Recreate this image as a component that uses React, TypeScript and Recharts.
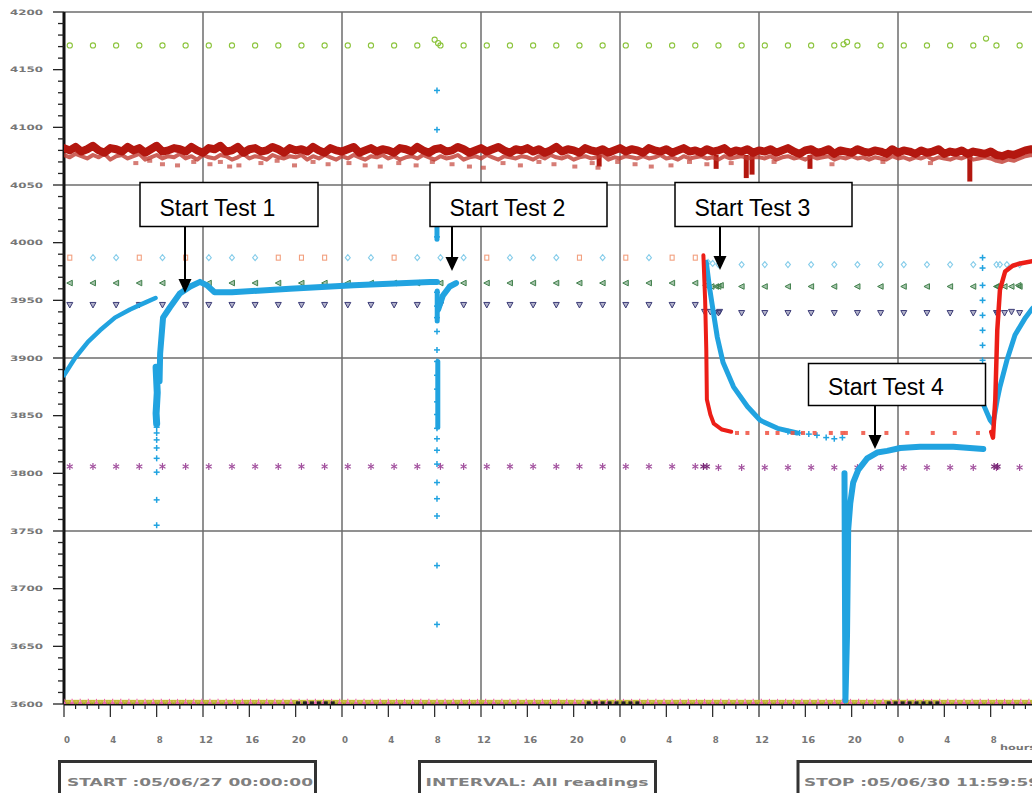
import React from 'react';
import { ComposedChart, Scatter, XAxis, YAxis, ReferenceLine } from 'recharts';

// ---------- axes ----------
const xTickHours = Array.from({ length: 85 }, (_, i) => i); // hourly ticks 0..84
const yMajorTicks = [3600, 3650, 3700, 3750, 3800, 3850, 3900, 3950, 4000, 4050, 4100, 4150, 4200];
const yAllTicks = yMajorTicks.flatMap((t, i) => (i < yMajorTicks.length - 1 ? [t, t + 10, t + 20, t + 30, t + 40] : [t]));
const gridHours = [12, 24, 36, 48, 60, 72];
const gridLevels = [4200, 4050, 3900, 3750];

// ---------- logged marker rows ----------
const markerHours = [0.5, 2.5, 4.5, 6.5, 8.5, 10.5, 12.5, 14.5, 16.5, 18.5, 20.5, 22.5, 24.5, 26.5, 28.5, 30.5, 32.5, 34.5, 36.5, 38.5, 40.5, 42.5, 44.5, 46.5, 48.5, 50.5, 52.5, 54.5, 56.5, 58.5, 60.5, 62.5, 64.5, 66.5, 68.5, 70.5, 72.5, 74.5, 76.5, 78.5, 80.5, 82.5];
const levelSwitchHour = 55;
const greenCircleLevel = [4171, 4171];
const diamondLevel = [3987, 3981];
const triLeftLevel = [3965, 3962];
const triDownLevel = [3946, 3939];
const starLevel = [3806, 3805];
const bottomLevel = 3601;
const salmonHours = [0.5, 6.5, 10.5, 18.5, 20.5, 22.5, 28.5, 36.5, 44.5, 48.5, 52.5, 54.5];

const greenCircleExtra = [[32.0, 4176], [32.3, 4173], [67.3, 4172], [67.6, 4174], [79.6, 4177]];
const diamondExtra = [[55.6, 3983], [56.0, 3982], [80.8, 3981], [81.4, 3981]];
const triLeftExtra = [[55.4, 3963], [55.9, 3962], [56.3, 3962], [56.7, 3963], [80.6, 3962], [81.2, 3962], [81.8, 3962], [82.4, 3963]];
const triDownExtra = [[55.3, 3940], [55.8, 3940], [56.2, 3939], [56.6, 3940], [80.6, 3939], [81.2, 3939], [81.8, 3940]];
const starExtra = [[55.2, 3806], [55.5, 3806], [80.3, 3806], [80.6, 3806]];

// ---------- dark red reading (noisy band) ----------
const redBandValues = [
  4082, 4080, 4083, 4079, 4081, 4084, 4080, 4078, 4082, 4081, 4079, 4083, 4080, 4082, 4078, 4081, 4084, 4079, 4080, 4082,
  4081, 4079, 4083, 4080, 4078, 4082, 4081, 4084, 4079, 4080, 4083, 4078, 4081, 4082, 4079, 4080, 4083, 4081, 4078, 4082,
  4080, 4081, 4079, 4083, 4080, 4078, 4082, 4080, 4079, 4081, 4083, 4078, 4080, 4082, 4079, 4081, 4080, 4078, 4082, 4081,
  4079, 4083, 4080, 4078, 4081, 4082, 4079, 4080, 4083, 4081, 4078, 4080, 4082, 4079, 4081, 4083, 4080, 4078, 4081, 4080,
  4082, 4079, 4081, 4078, 4080, 4083, 4079, 4081, 4080, 4078, 4082, 4080, 4079, 4081, 4078, 4080, 4082, 4079, 4081, 4080,
  4078, 4082, 4080, 4079, 4081, 4078, 4080, 4082, 4079, 4080, 4078, 4081, 4079, 4080, 4082, 4078, 4080, 4079, 4081, 4078,
  4080, 4079, 4081, 4078, 4080, 4082, 4079, 4077, 4080, 4081, 4078, 4079, 4081, 4077, 4080, 4079, 4078, 4081, 4079, 4078,
  4080, 4079, 4077, 4081, 4078, 4080, 4079, 4077, 4080, 4078, 4079, 4081, 4077, 4079, 4078, 4080, 4077, 4079, 4078, 4077,
  4079, 4076, 4075, 4077, 4076, 4078, 4080, 4081, 4080,
];
const redBandLower = [
  4076, 4074, 4077, 4075, 4073, 4076, 4074, 4077, 4072, 4075, 4076, 4073, 4075, 4077, 4072, 4074, 4076, 4073, 4075, 4074,
  4077, 4073, 4075, 4072, 4076, 4074, 4073, 4076, 4075, 4072, 4074, 4077, 4073, 4075, 4074, 4072, 4076, 4074, 4073, 4075,
  4074, 4076, 4072, 4075, 4073, 4076, 4074, 4072, 4075, 4073, 4076, 4074, 4072, 4075, 4074, 4076, 4073, 4075, 4072, 4074,
  4075, 4073, 4076, 4074, 4072, 4075, 4073, 4074, 4076, 4072, 4074, 4075, 4073, 4076, 4074, 4072, 4075, 4074, 4073, 4075,
  4074, 4072, 4075, 4073, 4076, 4074, 4073, 4075, 4072, 4074, 4075, 4073, 4074, 4076, 4072, 4074, 4073, 4075, 4074, 4073,
  4075, 4073, 4074, 4076, 4073, 4074, 4072, 4075, 4073, 4074, 4075, 4073, 4074, 4072, 4075, 4073, 4074, 4075, 4073, 4074,
  4074, 4073, 4075, 4072, 4074, 4075, 4073, 4074, 4072, 4075, 4073, 4074, 4075, 4072, 4074, 4073, 4075, 4073, 4074, 4072,
  4074, 4073, 4072, 4075, 4073, 4074, 4072, 4074, 4073, 4075, 4072, 4074, 4073, 4072, 4074, 4073, 4075, 4072, 4073, 4074,
  4073, 4071, 4070, 4072, 4071, 4073, 4075, 4076, 4075,
];
const redFringe = [[6.2, 4069], [7.4, 4071], [8.5, 4068], [9.8, 4067], [11.2, 4070], [12.6, 4068], [13.5, 4070], [14.3, 4066], [15.1, 4067], [17.0, 4069], [18.4, 4071], [19.9, 4067], [21.5, 4070], [22.8, 4068], [24.6, 4069], [26.0, 4067], [27.3, 4066], [28.9, 4069], [30.4, 4067], [31.8, 4070], [33.5, 4068], [35.0, 4066], [36.2, 4065], [37.9, 4069], [39.4, 4067], [41.0, 4070], [42.3, 4068], [44.1, 4066], [45.6, 4069], [46.1, 4065], [47.8, 4070], [49.3, 4068], [50.7, 4066], [52.4, 4067], [54.0, 4070], [55.5, 4068], [57.6, 4069], [61.3, 4070], [66.3, 4068], [70.7, 4070], [74.8, 4069]];
const redSpikeHours = [46.2, 56.3, 58.9, 59.4, 64.4, 78.2];
const redSpikeLows = [4066, 4064, 4056, 4059, 4064, 4053];
const redSpikeTop = 4076;

// ---------- blue reading ----------
const blueT1Rise = [[0, 3885], [0.95, 3900], [2.07, 3914], [3.11, 3924], [4.4, 3935], [5.7, 3942], [7.0, 3948], [7.9, 3952]];
const blueT1Drop = [[7.95, 3892], [8.05, 3870], [7.95, 3852], [8.0, 3843]];
const blueT1DropCross = [3840, 3835, 3829, 3822, 3813, 3801, 3777, 3755];
const blueT1DropHour = 8.0;
const blueT1Plateau = [[8.25, 3880], [8.3, 3904], [8.55, 3935], [9.15, 3944], [10.0, 3956], [10.9, 3962], [11.74, 3966], [12.35, 3963], [13.0, 3957], [14.5, 3957], [19.5, 3960], [25, 3963], [31.6, 3966], [32.2, 3966]];
const blueT2Hour = 32.2;
const blueT2Cross = [4132, 4098, 4024, 4015, 4005, 3957, 3945, 3935, 3923, 3907, 3897, 3885, 3873, 3862, 3851, 3839, 3830, 3820, 3808, 3792, 3778, 3763, 3720, 3669];
const blueT2Dense = [[[32.2, 4027], [32.2, 4003]], [[32.22, 3958], [32.22, 3932]], [[32.27, 3897], [32.27, 3840]]];
const blueT2Rise = [[32.3, 3942], [32.7, 3954], [33.3, 3962], [33.85, 3965]];
const blueT3Fall = [[55.45, 3983], [55.7, 3963], [55.96, 3946], [56.4, 3918], [56.9, 3896], [57.8, 3875], [59.0, 3858], [60.1, 3846], [61.6, 3839], [63.3, 3835]];
const blueT3Tail = [[62.5, 3836], [63.5, 3835], [64.3, 3834], [65.0, 3833], [65.8, 3831], [66.5, 3830], [67.2, 3831]];
const blueT4 = [[67.38, 3800], [67.42, 3700], [67.46, 3603], [67.6, 3660], [67.7, 3751], [67.88, 3774], [68.13, 3792], [68.57, 3803], [69.34, 3813], [70.2, 3818], [71.07, 3819.5], [72.19, 3822], [73.9, 3823], [76.77, 3823], [79.36, 3821]];
const blueT5Hour = 79.3;
const blueT5Cross = [3987, 3978, 3963, 3950, 3937, 3924, 3911, 3898, 3885, 3872];
const blueT5 = [[79.36, 3860], [79.96, 3846], [80.2, 3843], [80.57, 3864], [80.8, 3875], [81.4, 3898], [82.1, 3920], [83.0, 3935], [83.6, 3943], [84, 3946]];

// ---------- bright red reading ----------
const redT3Fall = [[55.2, 3989], [55.35, 3950], [55.45, 3907], [55.5, 3864], [55.8, 3851], [56.1, 3843], [56.8, 3838], [57.6, 3836]];
const redT3DotHours = [58.1, 59.0, 60.7, 61.6, 62.9, 63.8, 64.8, 66.2, 67.2, 67.5, 69.0, 71.0, 72.8, 75.0, 76.9, 78.9];
const redT3DotLevel = 3835;
const redT5Rise = [[80.05, 3836], [80.2, 3831], [80.4, 3864], [80.57, 3924], [80.8, 3959], [81.25, 3975], [81.9, 3980], [82.55, 3982], [83.6, 3984], [84, 3984]];

// ---------- bottom dense row ----------
const bottomPinkHours = Array.from({ length: 121 }, (_, i) => i * 0.7);
const bottomYellowHours = Array.from({ length: 120 }, (_, i) => i * 0.7 + 0.35);
const bottomBlackHours = [20.2, 20.8, 21.4, 22.0, 22.6, 23.2, 45.3, 45.9, 46.5, 47.1, 47.7, 48.3, 48.9, 49.5, 71.2, 71.8, 72.4, 73.0, 73.6, 74.2, 74.8, 75.4];

// ---------- colours ----------
const BLUE = '#21a3e0';
const DARK_RED = '#b3170f';
const BRIGHT_RED = '#ec1e17';

const toPts = (arr: number[][]) => arr.map(([h, v]) => ({ h, v }));
const row = (hours: number[], level: number[]) => hours.map((h) => ({ h, v: h < levelSwitchHour ? level[0] : level[1] }));
const flat = (hours: number[], v: number) => hours.map((h) => ({ h, v }));
const spread = (vals: number[]) => vals.map((v, i) => ({ h: (i * 84) / (vals.length - 1), v }));

// ---------- shapes ----------
const noShape = () => <g />;
const circleShape = (c: string) => (p: any) => <circle cx={p.cx} cy={p.cy} r={2.6} fill="none" stroke={c} strokeWidth={1.1} />;
const diamondShape = (c: string) => (p: any) => (
  <path d={`M${p.cx},${p.cy - 3}L${p.cx + 2.5},${p.cy}L${p.cx},${p.cy + 3}L${p.cx - 2.5},${p.cy}Z`} fill="none" stroke={c} strokeWidth={1.1} />
);
const squareShape = (c: string) => (p: any) => <rect x={p.cx - 2} y={p.cy - 2.5} width={4} height={5} fill="none" stroke={c} strokeWidth={1.1} />;
const triLeftShape = (c: string) => (p: any) => (
  <path d={`M${p.cx - 3},${p.cy}L${p.cx + 2.5},${p.cy - 2.8}L${p.cx + 2.5},${p.cy + 2.8}Z`} fill={c} fillOpacity={0.45} stroke={c} strokeWidth={1} />
);
const triDownShape = (c: string, fo = 0.4) => (p: any) => (
  <path d={`M${p.cx - 3},${p.cy - 2.5}L${p.cx + 3},${p.cy - 2.5}L${p.cx},${p.cy + 3}Z`} fill={c} fillOpacity={fo} stroke={c} strokeWidth={1} />
);
const starShape = (c: string, s = 3.5) => (p: any) => (
  <g stroke={c} strokeWidth={1.2}>
    <line x1={p.cx} y1={p.cy - s} x2={p.cx} y2={p.cy + s} />
    <line x1={p.cx - s * 0.86} y1={p.cy - s / 2} x2={p.cx + s * 0.86} y2={p.cy + s / 2} />
    <line x1={p.cx - s * 0.86} y1={p.cy + s / 2} x2={p.cx + s * 0.86} y2={p.cy - s / 2} />
  </g>
);
const crossShape = (c: string, s: number) => (p: any) => (
  <g stroke={c} strokeWidth={1.5}>
    <line x1={p.cx - s} x2={p.cx + s} y1={p.cy} y2={p.cy} />
    <line x1={p.cx} x2={p.cx} y1={p.cy - s} y2={p.cy + s} />
  </g>
);
const dotShape = (c: string, w: number, hgt: number, op = 1) => (p: any) => (
  <rect x={p.cx - w / 2} y={p.cy - hgt / 2} width={w} height={hgt} fill={c} fillOpacity={op} />
);

// ---------- ticks ----------
const XTick = (props: any) => {
  const { x, y, payload } = props;
  const h = payload.value as number;
  const major = h % 4 === 0;
  const label = String(h % 24);
  return (
    <g>
      <line x1={x} x2={x} y1={y} y2={y + (major ? 13 : 5)} stroke="#222" strokeWidth={1.2} />
      {major && h < 84 && (
        <text x={x + 3} y={y + 39} textAnchor="middle" fontSize={8} fontWeight="bold" fill="#777" fontFamily="DejaVu Sans" textLength={label.length > 1 ? 14 : 6} lengthAdjust="spacingAndGlyphs">
          {label}
        </text>
      )}
    </g>
  );
};

const YTick = (props: any) => {
  const { x, y, payload } = props;
  const v = payload.value as number;
  const major = v % 50 === 0;
  return (
    <g>
      <line x1={x - (major ? 11 : 6)} x2={x} y1={y} y2={y} stroke="#222" strokeWidth={1.3} />
      {major && (
        <text x={x - 54} y={y + 2.7} fontSize={7.5} fontWeight="bold" fill="#777" fontFamily="DejaVu Sans" textLength={33} lengthAdjust="spacingAndGlyphs">
          {v}
        </text>
      )}
    </g>
  );
};

const lineSeries = (key: string, pts: { h: number; v: number }[], color: string, width: number, opacity = 1) => (
  <Scatter key={key} data={pts} fill={color} shape={noShape} line={{ stroke: color, strokeWidth: width, strokeOpacity: opacity, strokeLinejoin: 'round', strokeLinecap: 'round' }} lineType="joint" isAnimationActive={false} />
);

const annotations = [
  { label: 'Start Test 1', x: 140, y: 182.5, w: 178, h: 44, ax: 185, tip: 293 },
  { label: 'Start Test 2', x: 430, y: 182.5, w: 177, h: 44, ax: 452, tip: 271 },
  { label: 'Start Test 3', x: 675, y: 182.5, w: 177, h: 44, ax: 720, tip: 270 },
  { label: 'Start Test 4', x: 808.5, y: 363.5, w: 177, h: 42, ax: 875, tip: 449 },
];
const infoBoxes = [
  { text: 'START :05/06/27 00:00:00', x: 59.5, w: 256, tx: 67, tl: 246 },
  { text: 'INTERVAL: All readings', x: 419.5, w: 236, tx: 425.5, tl: 223 },
  { text: 'STOP :05/06/30 11:59:59', x: 798, w: 262, tx: 804, tl: 236 },
];

export default function App() {
  const diamondHours = markerHours.filter((h) => !salmonHours.includes(h));
  return (
    <div style={{ position: 'absolute', left: 0, top: 0, width: 1032, height: 793, overflow: 'hidden', background: '#fff' }}>
      <ComposedChart width={1046} height={793} margin={{ top: 12, right: 9, bottom: 0, left: 0 }}>
        <XAxis type="number" dataKey="h" domain={[0, 84]} ticks={xTickHours} interval={0} tick={<XTick />} tickLine={false} tickSize={0} tickMargin={0} height={89} axisLine={{ stroke: '#111', strokeWidth: 3 }} allowDataOverflow />
        <YAxis type="number" dataKey="v" domain={[3600, 4200]} ticks={yAllTicks} interval={0} tick={<YTick />} tickLine={false} tickSize={0} tickMargin={0} width={64} axisLine={{ stroke: '#111', strokeWidth: 3 }} allowDataOverflow />
        {gridHours.map((h) => (
          <ReferenceLine key={`gx${h}`} x={h} stroke="#6c6c6c" strokeWidth={1.5} />
        ))}
        {gridLevels.map((v) => (
          <ReferenceLine key={`gy${v}`} y={v} stroke="#6c6c6c" strokeWidth={1.5} />
        ))}

        {/* marker rows */}
        <Scatter data={row(markerHours, greenCircleLevel)} shape={circleShape('#8cc43c')} isAnimationActive={false} />
        <Scatter data={toPts(greenCircleExtra)} shape={circleShape('#8cc43c')} isAnimationActive={false} />
        <Scatter data={row(diamondHours, diamondLevel)} shape={diamondShape('#86cdea')} isAnimationActive={false} />
        <Scatter data={toPts(diamondExtra)} shape={diamondShape('#86cdea')} isAnimationActive={false} />
        <Scatter data={row(salmonHours, diamondLevel)} shape={squareShape('#f2a07f')} isAnimationActive={false} />
        <Scatter data={row(markerHours, triLeftLevel)} shape={triLeftShape('#3f7f4a')} isAnimationActive={false} />
        <Scatter data={toPts(triLeftExtra)} shape={triLeftShape('#3f7f4a')} isAnimationActive={false} />
        <Scatter data={row(markerHours, triDownLevel)} shape={triDownShape('#3d3d78')} isAnimationActive={false} />
        <Scatter data={toPts(triDownExtra)} shape={triDownShape('#3d3d78')} isAnimationActive={false} />
        <Scatter data={row(markerHours, starLevel)} shape={starShape('#a2519e')} isAnimationActive={false} />
        <Scatter data={toPts(starExtra)} shape={starShape('#7a2a78')} isAnimationActive={false} />
        <Scatter data={flat(bottomPinkHours, bottomLevel)} shape={starShape('#ee6aa8', 4)} isAnimationActive={false} />
        <Scatter data={flat(bottomYellowHours, bottomLevel)} shape={triDownShape('#c2bc2c', 0.8)} isAnimationActive={false} />
        <Scatter data={flat(bottomBlackHours, bottomLevel)} shape={dotShape('#222', 4, 3)} isAnimationActive={false} />

        {/* dark red band */}
        <Scatter data={toPts(redFringe)} shape={dotShape('#c4463c', 5, 4, 0.7)} isAnimationActive={false} />
        {redSpikeHours.map((h, i) => (
          <ReferenceLine key={`sp${i}`} segment={[{ x: h, y: redSpikeTop }, { x: h, y: redSpikeLows[i] }]} stroke={DARK_RED} strokeWidth={5} ifOverflow="visible" />
        ))}
        {lineSeries('redlow', spread(redBandLower), '#c0392f', 4, 0.8)}
        {lineSeries('redband', spread(redBandValues), DARK_RED, 8)}

        {/* blue */}
        {lineSeries('b1', toPts(blueT1Rise), BLUE, 4.5)}
        {lineSeries('b1d', toPts(blueT1Drop), BLUE, 7)}
        <Scatter data={blueT1DropCross.map((v) => ({ h: blueT1DropHour, v }))} shape={crossShape(BLUE, 3)} isAnimationActive={false} />
        {lineSeries('b1p', toPts(blueT1Plateau), BLUE, 6)}
        <Scatter data={blueT2Cross.map((v) => ({ h: blueT2Hour, v }))} shape={crossShape(BLUE, 3)} isAnimationActive={false} />
        {blueT2Dense.map((seg, i) => lineSeries(`b2d${i}`, toPts(seg), BLUE, 5))}
        {lineSeries('b2r', toPts(blueT2Rise), BLUE, 6)}
        {lineSeries('b3', toPts(blueT3Fall), BLUE, 5)}
        <Scatter data={toPts(blueT3Tail)} shape={crossShape(BLUE, 3)} isAnimationActive={false} />
        {lineSeries('b4', toPts(blueT4), BLUE, 6)}
        <Scatter data={blueT5Cross.map((v) => ({ h: blueT5Hour, v }))} shape={crossShape(BLUE, 3)} isAnimationActive={false} />
        {lineSeries('b5', toPts(blueT5), BLUE, 5)}

        {/* bright red */}
        {lineSeries('r3', toPts(redT3Fall), BRIGHT_RED, 4)}
        <Scatter data={flat(redT3DotHours, redT3DotLevel)} shape={dotShape('#f0503f', 4, 4, 0.85)} isAnimationActive={false} />
        {lineSeries('r5', toPts(redT5Rise), BRIGHT_RED, 4.5)}
      </ComposedChart>

      <svg width={1032} height={793} style={{ position: 'absolute', left: 0, top: 0, pointerEvents: 'none' }}>
        {annotations.map((a) => (
          <g key={a.label}>
            <rect x={a.x} y={a.y} width={a.w} height={a.h} fill="#fff" stroke="#000" strokeWidth={1.5} />
            <text x={a.x + 19.5} y={a.y + a.h - 10.5} fontSize={23} fontFamily="Liberation Sans, Arial, sans-serif" fill="#000">
              {a.label}
            </text>
            <line x1={a.ax} x2={a.ax} y1={a.y + a.h} y2={a.tip - 13} stroke="#000" strokeWidth={2} />
            <polygon points={`${a.ax - 6.5},${a.tip - 14} ${a.ax + 6.5},${a.tip - 14} ${a.ax},${a.tip}`} fill="#000" />
          </g>
        ))}
        {infoBoxes.map((b) => (
          <g key={b.text}>
            <rect x={b.x} y={761.5} width={b.w} height={45} fill="#fff" stroke="#333" strokeWidth={3} />
            <text x={b.tx} y={786} fontSize={11} fontWeight="bold" fontFamily="DejaVu Sans" fill="#808080" textLength={b.tl} lengthAdjust="spacingAndGlyphs">
              {b.text}
            </text>
          </g>
        ))}
        <text x={1000} y={750} fontSize={7.5} fontWeight="bold" fontFamily="DejaVu Sans" fill="#777" textLength={36} lengthAdjust="spacingAndGlyphs">
          hours
        </text>
      </svg>
    </div>
  );
}
